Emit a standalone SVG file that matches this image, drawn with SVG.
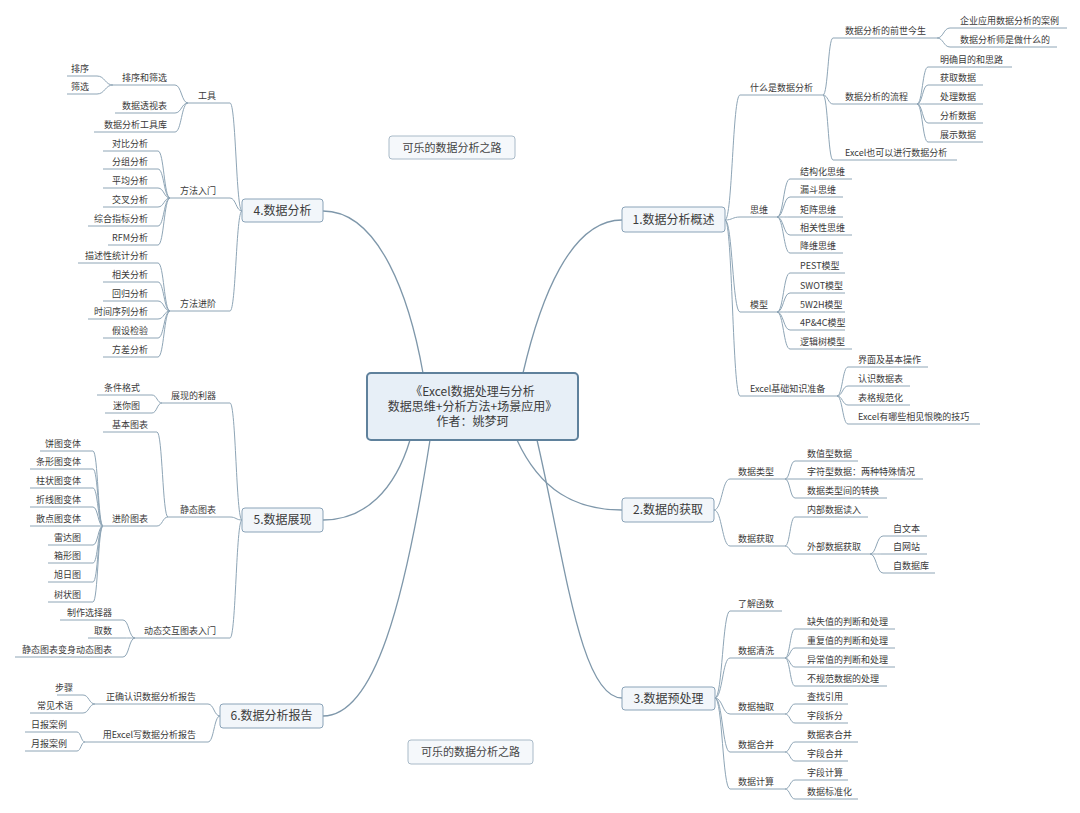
<svg xmlns="http://www.w3.org/2000/svg" width="1080" height="813" viewBox="0 0 1080 813">
<style>
text{font-family:"Noto Sans CJK SC","Noto Sans",sans-serif;fill:#3a3a3a}
.t{font-size:9px}
.e{font-size:9px;text-anchor:end}
.m{font-size:12px;text-anchor:middle;fill:#3c3c3c}
.f{font-size:11px;text-anchor:middle;fill:#444}
.c{font-size:12px;text-anchor:middle;fill:#3c3c3c}
.u{stroke:#8ea5b6;stroke-width:1;fill:none}
.k{stroke:#8ea5b6;stroke-width:1;fill:none}
.mk{stroke:#7e97aa;stroke-width:1.3;fill:none}
.box{fill:#f2f6fa;stroke:#8aa3b8;stroke-width:1}
.cbox{fill:#e7eff7;stroke:#5f819c;stroke-width:2}
.fbox{fill:#f5f8fb;stroke:#a9bac8;stroke-width:1}
</style>
<rect width="1080" height="813" fill="#ffffff"/>
<g id="connectors">
<path class="mk" d="M523,373 C540,300 570,220 622,220"/>
<path class="mk" d="M517,440 C540,490 575,510 622,510"/>
<path class="mk" d="M537,440 C565,560 580,698 622,698"/>
<path class="mk" d="M423,373 C410,300 380,211 323,211"/>
<path class="mk" d="M410,440 C395,490 365,520 323,520"/>
<path class="mk" d="M430,440 C405,600 375,716 323,716"/>
<path class="k" d="M725,220 C732.5,220 732.5,95 740,95 M725,220 C732.5,220 732.5,217 740,217 M725,220 C732.5,220 732.5,312 740,312 M725,220 C732.5,220 732.5,396 740,396"/>
<path class="k" d="M823,95 C828,95 828,38 833,38 M823,95 C828,95 828,104 833,104 M823,95 C828,95 828,160 833,160"/>
<path class="k" d="M937,38 C943.5,38 943.5,28 950,28 M937,38 C943.5,38 943.5,47 950,47"/>
<path class="k" d="M917,104 C922.5,104 922.5,67 928,67 M917,104 C922.5,104 922.5,85 928,85 M917,104 C922.5,104 922.5,104 928,104 M917,104 C922.5,104 922.5,123 928,123 M917,104 C922.5,104 922.5,142 928,142"/>
<path class="k" d="M777,217 C783.5,217 783.5,179 790,179 M777,217 C783.5,217 783.5,197 790,197 M777,217 C783.5,217 783.5,217 790,217 M777,217 C783.5,217 783.5,235 790,235 M777,217 C783.5,217 783.5,253 790,253"/>
<path class="k" d="M777,312 C783.5,312 783.5,273 790,273 M777,312 C783.5,312 783.5,293 790,293 M777,312 C783.5,312 783.5,312 790,312 M777,312 C783.5,312 783.5,330 790,330 M777,312 C783.5,312 783.5,349 790,349"/>
<path class="k" d="M837,396 C842.5,396 842.5,367 848,367 M837,396 C842.5,396 842.5,386 848,386 M837,396 C842.5,396 842.5,405 848,405 M837,396 C842.5,396 842.5,424 848,424"/>
<path class="k" d="M714,510 C722,510 722,479 730,479 M714,510 C722,510 722,546 730,546"/>
<path class="k" d="M785,479 C790,479 790,461 795,461 M785,479 C790,479 790,479 795,479 M785,479 C790,479 790,498 795,498"/>
<path class="k" d="M785,546 C790,546 790,517 795,517 M785,546 C790,546 790,554 795,554"/>
<path class="k" d="M870,554 C876.5,554 876.5,536 883,536 M870,554 C876.5,554 876.5,554 883,554 M870,554 C876.5,554 876.5,573 883,573"/>
<path class="k" d="M715,698 C722.5,698 722.5,611 730,611 M715,698 C722.5,698 722.5,658 730,658 M715,698 C722.5,698 722.5,714 730,714 M715,698 C722.5,698 722.5,752 730,752 M715,698 C722.5,698 722.5,789 730,789"/>
<path class="k" d="M785,658 C790,658 790,629 795,629 M785,658 C790,658 790,648 795,648 M785,658 C790,658 790,667 795,667 M785,658 C790,658 790,686 795,686"/>
<path class="k" d="M785,714 C790,714 790,704 795,704 M785,714 C790,714 790,723 795,723"/>
<path class="k" d="M785,752 C790,752 790,742 795,742 M785,752 C790,752 790,761 795,761"/>
<path class="k" d="M785,789 C790,789 790,780 795,780 M785,789 C790,789 790,799 795,799"/>
<path class="k" d="M242,211 C236,211 236,103 230,103 M242,211 C236,211 236,198 230,198 M242,211 C236,211 236,311 230,311"/>
<path class="k" d="M188,103 C181.5,103 181.5,85 175,85 M188,103 C181.5,103 181.5,113 175,113 M188,103 C181.5,103 181.5,132 175,132"/>
<path class="k" d="M113,85 C105,85 105,76 97,76 M113,85 C105,85 105,94 97,94"/>
<path class="k" d="M170,198 C164,198 164,151 158,151 M170,198 C164,198 164,169 158,169 M170,198 C164,198 164,188 158,188 M170,198 C164,198 164,207 158,207 M170,198 C164,198 164,226 158,226 M170,198 C164,198 164,245 158,245"/>
<path class="k" d="M170,311 C164,311 164,263 158,263 M170,311 C164,311 164,282 158,282 M170,311 C164,311 164,301 158,301 M170,311 C164,311 164,319 158,319 M170,311 C164,311 164,338 158,338 M170,311 C164,311 164,357 158,357"/>
<path class="k" d="M242,520 C236,520 236,403 230,403 M242,520 C236,520 236,517 230,517 M242,520 C236,520 236,638 230,638"/>
<path class="k" d="M162,403 C157,403 157,395 152,395 M162,403 C157,403 157,413 152,413"/>
<path class="k" d="M168,517 C162.5,517 162.5,432 157,432 M168,517 C162.5,517 162.5,526 157,526"/>
<path class="k" d="M103,526 C98,526 98,451 93,451 M103,526 C98,526 98,469 93,469 M103,526 C98,526 98,488 93,488 M103,526 C98,526 98,507 93,507 M103,526 C98,526 98,526 93,526 M103,526 C98,526 98,545 93,545 M103,526 C98,526 98,563 93,563 M103,526 C98,526 98,582 93,582 M103,526 C98,526 98,602 93,602"/>
<path class="k" d="M135,638 C129,638 129,620 123,620 M135,638 C129,638 129,638 123,638 M135,638 C129,638 129,657 123,657"/>
<path class="k" d="M220,716 C214,716 214,704 208,704 M220,716 C214,716 214,742 208,742"/>
<path class="k" d="M95,704 C89,704 89,695 83,695 M95,704 C89,704 89,713 83,713"/>
<path class="k" d="M85,742 C81,742 81,732 77,732 M85,742 C81,742 81,751 77,751"/>
</g>

<g id="center"><rect class="cbox" x="367" y="373" width="211" height="67" rx="4"/>
<text class="c" x="472.5" y="396">《Excel数据处理与分析</text>
<text class="c" x="472.5" y="411">数据思维+分析方法+场景应用》</text>
<text class="c" x="472.5" y="426">作者：姚梦珂</text></g>

<g id="title-top"><rect class="fbox" x="389" y="136" width="126" height="23" rx="3"/><text class="f" x="452" y="151.5">可乐的数据分析之路</text></g>
<g id="title-bottom"><rect class="fbox" x="408" y="740" width="125" height="24" rx="3"/><text class="f" x="470.5" y="756">可乐的数据分析之路</text></g>

<g id="n1"><rect class="box" x="622" y="207" width="103" height="25" rx="3"/><text class="m" x="673.5" y="224">1.数据分析概述</text></g>
<g id="n1a"><path class="u" d="M740,95H823"/><text class="t" x="750" y="91">什么是数据分析</text></g>
<g id="n1a1"><path class="u" d="M833,38H937"/><text class="t" x="845" y="34">数据分析的前世今生</text></g>
<g id="n1a1a"><path class="u" d="M950,28H1067"/><text class="t" x="960" y="24">企业应用数据分析的案例</text></g>
<g id="n1a1b"><path class="u" d="M950,47H1057"/><text class="t" x="960" y="43">数据分析师是做什么的</text></g>
<g id="n1a2"><path class="u" d="M833,104H917"/><text class="t" x="845" y="100">数据分析的流程</text></g>
<g id="n1a2a"><path class="u" d="M928,67H1012"/><text class="t" x="940" y="63">明确目的和思路</text></g>
<g id="n1a2b"><path class="u" d="M928,85H983"/><text class="t" x="940" y="81">获取数据</text></g>
<g id="n1a2c"><path class="u" d="M928,104H983"/><text class="t" x="940" y="100">处理数据</text></g>
<g id="n1a2d"><path class="u" d="M928,123H983"/><text class="t" x="940" y="119">分析数据</text></g>
<g id="n1a2e"><path class="u" d="M928,142H983"/><text class="t" x="940" y="138">展示数据</text></g>
<g id="n1a3"><path class="u" d="M833,160H957"/><text class="t" x="845" y="156">Excel也可以进行数据分析</text></g>
<g id="n1b"><path class="u" d="M740,217H777"/><text class="t" x="750" y="213">思维</text></g>
<g id="n1b1"><path class="u" d="M790,179H852"/><text class="t" x="800" y="175">结构化思维</text></g>
<g id="n1b2"><path class="u" d="M790,197H843"/><text class="t" x="800" y="193">漏斗思维</text></g>
<g id="n1b3"><path class="u" d="M790,217H843"/><text class="t" x="800" y="213">矩阵思维</text></g>
<g id="n1b4"><path class="u" d="M790,235H852"/><text class="t" x="800" y="231">相关性思维</text></g>
<g id="n1b5"><path class="u" d="M790,253H843"/><text class="t" x="800" y="249">降维思维</text></g>
<g id="n1c"><path class="u" d="M740,312H777"/><text class="t" x="750" y="308">模型</text></g>
<g id="n1c1"><path class="u" d="M790,273H845"/><text class="t" x="800" y="269">PEST模型</text></g>
<g id="n1c2"><path class="u" d="M790,293H845"/><text class="t" x="800" y="289">SWOT模型</text></g>
<g id="n1c3"><path class="u" d="M790,312H845"/><text class="t" x="800" y="308">5W2H模型</text></g>
<g id="n1c4"><path class="u" d="M790,330H845"/><text class="t" x="800" y="326">4P&amp;4C模型</text></g>
<g id="n1c5"><path class="u" d="M790,349H852"/><text class="t" x="800" y="345">逻辑树模型</text></g>
<g id="n1d"><path class="u" d="M740,396H837"/><text class="t" x="750" y="392">Excel基础知识准备</text></g>
<g id="n1d1"><path class="u" d="M848,367H928"/><text class="t" x="858" y="363">界面及基本操作</text></g>
<g id="n1d2"><path class="u" d="M848,386H910"/><text class="t" x="858" y="382">认识数据表</text></g>
<g id="n1d3"><path class="u" d="M848,405H910"/><text class="t" x="858" y="401">表格规范化</text></g>
<g id="n1d4"><path class="u" d="M848,424H980"/><text class="t" x="858" y="420">Excel有哪些相见恨晚的技巧</text></g>

<g id="n2"><rect class="box" x="622" y="498" width="92" height="24" rx="3"/><text class="m" x="668" y="514">2.数据的获取</text></g>
<g id="n2a"><path class="u" d="M730,479H785"/><text class="t" x="738" y="475">数据类型</text></g>
<g id="n2a1"><path class="u" d="M795,461H858"/><text class="t" x="807" y="457">数值型数据</text></g>
<g id="n2a2"><path class="u" d="M795,479H923"/><text class="t" x="807" y="475">字符型数据：两种特殊情况</text></g>
<g id="n2a3"><path class="u" d="M795,498H887"/><text class="t" x="807" y="494">数据类型间的转换</text></g>
<g id="n2b"><path class="u" d="M730,546H785"/><text class="t" x="738" y="542">数据获取</text></g>
<g id="n2b1"><path class="u" d="M795,517H868"/><text class="t" x="807" y="513">内部数据读入</text></g>
<g id="n2b2"><path class="u" d="M795,554H870"/><text class="t" x="807" y="550">外部数据获取</text></g>
<g id="n2b2a"><path class="u" d="M883,536H927"/><text class="t" x="893" y="532">自文本</text></g>
<g id="n2b2b"><path class="u" d="M883,554H927"/><text class="t" x="893" y="550">自网站</text></g>
<g id="n2b2c"><path class="u" d="M883,573H935"/><text class="t" x="893" y="569">自数据库</text></g>

<g id="n3"><rect class="box" x="622" y="687" width="93" height="23" rx="3"/><text class="m" x="668.5" y="703">3.数据预处理</text></g>
<g id="n3a"><path class="u" d="M730,611H782"/><text class="t" x="738" y="607">了解函数</text></g>
<g id="n3b"><path class="u" d="M730,658H785"/><text class="t" x="738" y="654">数据清洗</text></g>
<g id="n3b1"><path class="u" d="M795,629H895"/><text class="t" x="807" y="625">缺失值的判断和处理</text></g>
<g id="n3b2"><path class="u" d="M795,648H895"/><text class="t" x="807" y="644">重复值的判断和处理</text></g>
<g id="n3b3"><path class="u" d="M795,667H895"/><text class="t" x="807" y="663">异常值的判断和处理</text></g>
<g id="n3b4"><path class="u" d="M795,686H887"/><text class="t" x="807" y="682">不规范数据的处理</text></g>
<g id="n3c"><path class="u" d="M730,714H785"/><text class="t" x="738" y="710">数据抽取</text></g>
<g id="n3c1"><path class="u" d="M795,704H848"/><text class="t" x="807" y="700">查找引用</text></g>
<g id="n3c2"><path class="u" d="M795,723H848"/><text class="t" x="807" y="719">字段拆分</text></g>
<g id="n3d"><path class="u" d="M730,752H785"/><text class="t" x="738" y="748">数据合并</text></g>
<g id="n3d1"><path class="u" d="M795,742H858"/><text class="t" x="807" y="738">数据表合并</text></g>
<g id="n3d2"><path class="u" d="M795,761H848"/><text class="t" x="807" y="757">字段合并</text></g>
<g id="n3e"><path class="u" d="M730,789H785"/><text class="t" x="738" y="785">数据计算</text></g>
<g id="n3e1"><path class="u" d="M795,780H848"/><text class="t" x="807" y="776">字段计算</text></g>
<g id="n3e2"><path class="u" d="M795,799H858"/><text class="t" x="807" y="795">数据标准化</text></g>

<g id="n4"><rect class="box" x="242" y="199" width="81" height="23" rx="3"/><text class="m" x="282.5" y="215">4.数据分析</text></g>
<g id="n4a"><path class="u" d="M188,103H230"/><text class="e" x="216" y="99">工具</text></g>
<g id="n4a1"><path class="u" d="M113,85H175"/><text class="e" x="167" y="81">排序和筛选</text></g>
<g id="n4a1a"><path class="u" d="M67,76H97"/><text class="e" x="89" y="72">排序</text></g>
<g id="n4a1b"><path class="u" d="M67,94H97"/><text class="e" x="89" y="90">筛选</text></g>
<g id="n4a2"><path class="u" d="M115,113H175"/><text class="e" x="167" y="109">数据透视表</text></g>
<g id="n4a3"><path class="u" d="M94,132H175"/><text class="e" x="167" y="128">数据分析工具库</text></g>
<g id="n4b"><path class="u" d="M170,198H230"/><text class="e" x="216" y="194">方法入门</text></g>
<g id="n4b1"><path class="u" d="M103,151H158"/><text class="e" x="148" y="147">对比分析</text></g>
<g id="n4b2"><path class="u" d="M103,169H158"/><text class="e" x="148" y="165">分组分析</text></g>
<g id="n4b3"><path class="u" d="M103,188H158"/><text class="e" x="148" y="184">平均分析</text></g>
<g id="n4b4"><path class="u" d="M103,207H158"/><text class="e" x="148" y="203">交叉分析</text></g>
<g id="n4b5"><path class="u" d="M88,226H158"/><text class="e" x="148" y="222">综合指标分析</text></g>
<g id="n4b6"><path class="u" d="M108,245H158"/><text class="e" x="148" y="241">RFM分析</text></g>
<g id="n4c"><path class="u" d="M170,311H230"/><text class="e" x="216" y="307">方法进阶</text></g>
<g id="n4c1"><path class="u" d="M78,263H158"/><text class="e" x="148" y="259">描述性统计分析</text></g>
<g id="n4c2"><path class="u" d="M103,282H158"/><text class="e" x="148" y="278">相关分析</text></g>
<g id="n4c3"><path class="u" d="M103,301H158"/><text class="e" x="148" y="297">回归分析</text></g>
<g id="n4c4"><path class="u" d="M88,319H158"/><text class="e" x="148" y="315">时间序列分析</text></g>
<g id="n4c5"><path class="u" d="M103,338H158"/><text class="e" x="148" y="334">假设检验</text></g>
<g id="n4c6"><path class="u" d="M103,357H158"/><text class="e" x="148" y="353">方差分析</text></g>

<g id="n5"><rect class="box" x="242" y="508" width="81" height="24" rx="3"/><text class="m" x="282.5" y="524">5.数据展现</text></g>
<g id="n5a"><path class="u" d="M162,403H230"/><text class="e" x="216" y="399">展现的利器</text></g>
<g id="n5a1"><path class="u" d="M97,395H152"/><text class="e" x="140" y="391">条件格式</text></g>
<g id="n5a2"><path class="u" d="M105,413H152"/><text class="e" x="140" y="409">迷你图</text></g>
<g id="n5b"><path class="u" d="M168,517H230"/><text class="e" x="216" y="513">静态图表</text></g>
<g id="n5b1"><path class="u" d="M103,432H157"/><text class="e" x="148" y="428">基本图表</text></g>
<g id="n5b2"><path class="u" d="M103,526H157"/><text class="e" x="148" y="522">进阶图表</text></g>
<g id="n5b2a"><path class="u" d="M40,451H93"/><text class="e" x="81" y="447">饼图变体</text></g>
<g id="n5b2b"><path class="u" d="M30,469H93"/><text class="e" x="81" y="465">条形图变体</text></g>
<g id="n5b2c"><path class="u" d="M30,488H93"/><text class="e" x="81" y="484">柱状图变体</text></g>
<g id="n5b2d"><path class="u" d="M30,507H93"/><text class="e" x="81" y="503">折线图变体</text></g>
<g id="n5b2e"><path class="u" d="M30,526H93"/><text class="e" x="81" y="522">散点图变体</text></g>
<g id="n5b2f"><path class="u" d="M48,545H93"/><text class="e" x="81" y="541">雷达图</text></g>
<g id="n5b2g"><path class="u" d="M48,563H93"/><text class="e" x="81" y="559">箱形图</text></g>
<g id="n5b2h"><path class="u" d="M48,582H93"/><text class="e" x="81" y="578">旭日图</text></g>
<g id="n5b2i"><path class="u" d="M48,602H93"/><text class="e" x="81" y="598">树状图</text></g>
<g id="n5c"><path class="u" d="M135,638H230"/><text class="e" x="216" y="634">动态交互图表入门</text></g>
<g id="n5c1"><path class="u" d="M60,620H123"/><text class="e" x="112" y="616">制作选择器</text></g>
<g id="n5c2"><path class="u" d="M88,638H123"/><text class="e" x="112" y="634">取数</text></g>
<g id="n5c3"><path class="u" d="M15,657H123"/><text class="e" x="112" y="653">静态图表变身动态图表</text></g>

<g id="n6"><rect class="box" x="220" y="704" width="103" height="24" rx="3"/><text class="m" x="271.5" y="720">6.数据分析报告</text></g>
<g id="n6a"><path class="u" d="M95,704H208"/><text class="e" x="196" y="700">正确认识数据分析报告</text></g>
<g id="n6a1"><path class="u" d="M57,695H83"/><text class="e" x="73" y="691">步骤</text></g>
<g id="n6a2"><path class="u" d="M30,713H83"/><text class="e" x="73" y="709">常见术语</text></g>
<g id="n6b"><path class="u" d="M85,742H208"/><text class="e" x="196" y="738">用Excel写数据分析报告</text></g>
<g id="n6b1"><path class="u" d="M25,732H77"/><text class="e" x="67" y="728">日报案例</text></g>
<g id="n6b2"><path class="u" d="M25,751H77"/><text class="e" x="67" y="747">月报案例</text></g>
</svg>
